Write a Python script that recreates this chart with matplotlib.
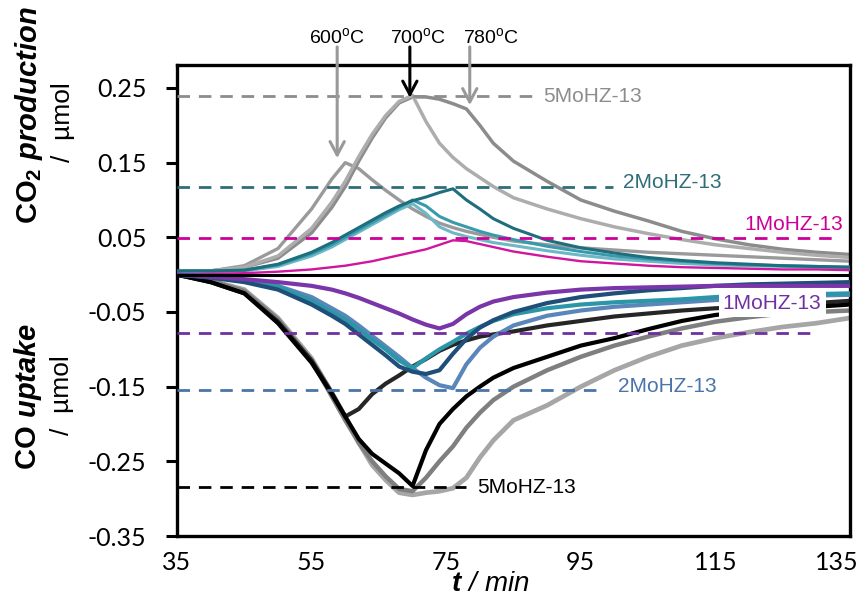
import matplotlib
matplotlib.use("Agg")
import matplotlib.pyplot as plt
from matplotlib.transforms import ScaledTranslation

plt.rcParams['mathtext.fontset'] = 'custom'
plt.rcParams['mathtext.rm'] = 'Liberation Sans'
plt.rcParams['mathtext.it'] = 'Liberation Sans:italic:bold'
plt.rcParams['mathtext.bf'] = 'Liberation Sans:bold'
plt.rcParams['mathtext.sf'] = 'Liberation Sans:italic'

# ---------------- data ----------------
T = [35, 40, 45, 50, 55, 58, 60, 62, 64, 66, 68, 70, 72, 74, 76, 78, 80, 82, 85,
     90, 95, 100, 105, 110, 115, 120, 125, 130, 135]

# CO2 production (positive)
co2_5mo_600 = [0.005, 0.005, 0.012, 0.035, 0.088, 0.128, 0.150, 0.142, 0.127, 0.113, 0.100, 0.088, 0.078, 0.069, 0.063,
               0.058, 0.054, 0.050, 0.045, 0.040, 0.036, 0.033, 0.030, 0.028, 0.026, 0.024, 0.022, 0.020, 0.018]
co2_5mo_700 = [0.003, 0.005, 0.010, 0.025, 0.062, 0.097, 0.125, 0.158, 0.188, 0.213, 0.232, 0.240, 0.205, 0.176, 0.157,
               0.142, 0.130, 0.118, 0.103, 0.088, 0.075, 0.064, 0.055, 0.047, 0.040, 0.035, 0.030, 0.026, 0.023]
co2_5mo_780 = [0.003, 0.005, 0.010, 0.022, 0.056, 0.090, 0.118, 0.152, 0.183, 0.210, 0.230, 0.238, 0.238, 0.235, 0.229,
               0.222, 0.200, 0.176, 0.152, 0.125, 0.100, 0.085, 0.072, 0.058, 0.048, 0.040, 0.034, 0.030, 0.027]
co2_2mo_a = [0.005, 0.005, 0.006, 0.014, 0.030, 0.043, 0.053, 0.063, 0.073, 0.083, 0.092, 0.099, 0.104, 0.110, 0.115,
             0.100, 0.088, 0.075, 0.062, 0.046, 0.036, 0.029, 0.023, 0.019, 0.016, 0.014, 0.012, 0.011, 0.010]
co2_2mo_b = [0.005, 0.005, 0.006, 0.013, 0.028, 0.040, 0.050, 0.060, 0.070, 0.080, 0.090, 0.100, 0.092, 0.078, 0.070,
             0.064, 0.058, 0.053, 0.047, 0.038, 0.031, 0.025, 0.021, 0.018, 0.015, 0.013, 0.012, 0.011, 0.010]
co2_2mo_c = [0.004, 0.004, 0.005, 0.011, 0.025, 0.037, 0.047, 0.057, 0.067, 0.077, 0.087, 0.095, 0.082, 0.064, 0.056,
             0.051, 0.047, 0.043, 0.039, 0.032, 0.026, 0.021, 0.018, 0.015, 0.013, 0.012, 0.011, 0.010, 0.009]
co2_1mo = [0.000, 0.001, 0.002, 0.004, 0.007, 0.010, 0.012, 0.015, 0.018, 0.022, 0.026, 0.030, 0.034, 0.040, 0.046,
           0.045, 0.041, 0.037, 0.031, 0.024, 0.018, 0.015, 0.012, 0.010, 0.009, 0.008, 0.007, 0.007, 0.006]

# CO uptake (negative)
co_1mo = [0.000, -0.003, -0.006, -0.010, -0.015, -0.020, -0.025, -0.031, -0.038, -0.045, -0.052, -0.060, -0.067, -0.072,
          -0.066, -0.053, -0.043, -0.036, -0.030, -0.024, -0.020, -0.018, -0.017, -0.016, -0.015, -0.015, -0.015, -0.015, -0.015]
co_2mo_a = [0.000, -0.003, -0.008, -0.016, -0.035, -0.050, -0.060, -0.073, -0.087, -0.100, -0.115, -0.125, -0.112, -0.100,
            -0.090, -0.079, -0.070, -0.062, -0.053, -0.045, -0.040, -0.037, -0.035, -0.033, -0.030, -0.028, -0.027, -0.026, -0.025]
co_2mo_b = [0.000, -0.004, -0.010, -0.020, -0.040, -0.055, -0.066, -0.080, -0.094, -0.108, -0.123, -0.130, -0.133, -0.128,
            -0.106, -0.086, -0.071, -0.061, -0.050, -0.038, -0.030, -0.025, -0.021, -0.018, -0.015, -0.013, -0.012, -0.011, -0.010]
co_2mo_c = [0.000, -0.003, -0.008, -0.015, -0.030, -0.045, -0.055, -0.068, -0.082, -0.096, -0.110, -0.125, -0.138, -0.148,
            -0.152, -0.120, -0.098, -0.083, -0.068, -0.055, -0.048, -0.043, -0.040, -0.037, -0.034, -0.032, -0.030, -0.028, -0.027]
co_5mo_700 = [0.000, -0.010, -0.025, -0.065, -0.118, -0.160, -0.190, -0.220, -0.240, -0.253, -0.266, -0.283, -0.235, -0.200,
              -0.180, -0.163, -0.150, -0.138, -0.125, -0.110, -0.095, -0.085, -0.073, -0.062, -0.054, -0.049, -0.046, -0.043, -0.040]
co_5mo_600 = [0.000, -0.010, -0.025, -0.063, -0.115, -0.158, -0.190, -0.180, -0.160, -0.146, -0.135, -0.123, -0.113, -0.102,
              -0.094, -0.088, -0.083, -0.080, -0.076, -0.068, -0.062, -0.056, -0.052, -0.048, -0.045, -0.043, -0.040, -0.038, -0.035]
co_5mo_700b = [0.000, -0.008, -0.022, -0.060, -0.115, -0.163, -0.195, -0.225, -0.250, -0.270, -0.287, -0.290, -0.272, -0.250,
               -0.230, -0.205, -0.185, -0.168, -0.150, -0.128, -0.110, -0.095, -0.083, -0.072, -0.063, -0.057, -0.052, -0.050, -0.048]
co_5mo_780 = [0.000, -0.008, -0.020, -0.058, -0.112, -0.158, -0.190, -0.225, -0.255, -0.275, -0.292, -0.295, -0.292, -0.290,
              -0.286, -0.272, -0.245, -0.222, -0.195, -0.175, -0.150, -0.128, -0.110, -0.095, -0.085, -0.077, -0.070, -0.065, -0.058]

# reference dashed levels and their labels
ref_labels = ["5MoHZ-13", "2MoHZ-13", "1MoHZ-13", "1MoHZ-13", "2MoHZ-13", "5MoHZ-13"]
ref_levels = [0.239, 0.118, 0.049, -0.0775, -0.154, -0.284]
ref_ends = [88.2, 99.8, 133.2, 130.0, 97.9, 78.0]
ref_label_x = [89.4, 101.3, 134.0, 116.1, 100.5, 79.6]
ref_label_y = [0.238, 0.123, 0.067, -0.039, -0.150, -0.285]
ref_colors = ["#8c8c8c", "#2e6e7a", "#cc0099", "#7030a0", "#4a74aa", "#000000"]

# temperature markers
temp_labels = ["600$^{\\mathrm{o}}$C", "700$^{\\mathrm{o}}$C", "780$^{\\mathrm{o}}$C"]
temp_t = [58.8, 69.6, 78.5]
temp_label_t = [58.8, 70.8, 81.7]
temp_tip = [0.156, 0.237, 0.227]
temp_colors = ["#999999", "#000000", "#999999"]

x_ticks = [35, 55, 75, 95, 115, 135]
y_ticks = [-0.35, -0.25, -0.15, -0.05, 0.05, 0.15, 0.25]
y_tick_labels = ["-0.35", "-0.25", "-0.15", "-0.05", "0.05", "0.15", "0.25"]

# ---------------- figure ----------------
W, H = 863, 606
fig = plt.figure(figsize=(W / 100, H / 100), dpi=100)
ax = fig.add_axes([177 / W, 1 - 536 / H, (850 - 177) / W, (536 - 65) / H])
ax.set_xlim(35, 135)
ax.set_ylim(-0.35, 0.2808)

# CO2 curves
ax.plot(T, co2_5mo_600, color="#9a9a9a", lw=2.4, zorder=2)
ax.plot(T, co2_5mo_780, color="#8c8c8c", lw=2.5, zorder=2)
ax.plot(T, co2_5mo_700, color="#adadad", lw=2.5, zorder=2)
ax.plot(T, co2_2mo_c, color="#6cb8c6", lw=2.2, zorder=3)
ax.plot(T, co2_2mo_b, color="#3a9aad", lw=2.2, zorder=3)
ax.plot(T, co2_2mo_a, color="#1f6e7e", lw=2.2, zorder=3)
ax.plot(T, co2_1mo, color="#d0169e", lw=1.7, zorder=4)

# CO uptake curves
ax.plot(T, co_5mo_780, color="#a6a6a6", lw=3.4, zorder=2)
ax.plot(T, co_5mo_700b, color="#7f7f7f", lw=3.2, zorder=2)
ax.plot(T, co_5mo_600, color="#262626", lw=3.0, zorder=2)
ax.plot(T, co_5mo_700, color="#000000", lw=3.0, zorder=2)
ax.plot(T, co_2mo_c, color="#5a86ba", lw=3.0, zorder=3)
ax.plot(T, co_2mo_a, color="#2b96a8", lw=3.0, zorder=3)
ax.plot(T, co_2mo_b, color="#1f4e79", lw=3.0, zorder=3)
ax.plot(T, co_1mo, color="#7a35a8", lw=3.0, zorder=4)

# zero line
ax.axhline(0, color="black", lw=2.2, zorder=6)

# reference dashed lines + labels
for lab, lev, end, lx, ly, c in zip(ref_labels, ref_levels, ref_ends, ref_label_x, ref_label_y, ref_colors):
    ax.plot([35, end], [lev, lev], color=c, lw=2.0, ls=(0, (4.5, 3.2)), zorder=5)
    ha = "right" if lab == "1MoHZ-13" and lev > 0 else "left"
    kw = {}
    if lab == "1MoHZ-13" and lev < 0:
        kw["bbox"] = dict(facecolor="white", edgecolor="none", pad=3)
    ax.text(lx, ly, lab, color=c, fontsize=15, family="Liberation Sans",
            ha=ha, va="center", zorder=7, **kw)

# temperature arrows
for lab, t, lt, tip, c in zip(temp_labels, temp_t, temp_label_t, temp_tip, temp_colors):
    ax.annotate("", xy=(t, tip), xytext=(t, 0.305), annotation_clip=False,
                arrowprops=dict(arrowstyle="->,head_length=0.6,head_width=0.32",
                                color=c, lw=2.2, mutation_scale=16,
                                shrinkA=0, shrinkB=0), zorder=8)
    ax.text(lt, 0.318, lab, color="black", fontsize=14, family="Liberation Sans",
            ha="center", va="center", clip_on=False)

# axes styling
for sp in ax.spines.values():
    sp.set_linewidth(2.4)
    sp.set_color("black")
ax.set_xticks(x_ticks)
ax.set_xticklabels([str(v) for v in x_ticks])
ax.set_yticks(y_ticks)
ax.set_yticklabels(y_tick_labels)
ax.tick_params(axis="x", length=0, pad=11, labelsize=18)
ax.tick_params(axis="y", direction="out", length=8, width=2.2, pad=14, labelsize=18)
for lab in ax.get_xticklabels() + ax.get_yticklabels():
    lab.set_family("Lato")
last = ax.get_xticklabels()[-1]
last.set_transform(last.get_transform() + ScaledTranslation(-0.13, 0, fig.dpi_scale_trans))

# axis titles
def fx(px):
    return px / W

def fy(py):
    return 1 - py / H

fig.text(fx(29), fy(115), r"$\mathbf{CO_2}\ \mathit{production}$", rotation=90,
         fontsize=21, ha="center", va="center")
fig.text(fx(63), fy(122), "/  µmol", rotation=90, fontsize=19, family="Liberation Sans",
         ha="center", va="center")
fig.text(fx(28), fy(396), r"$\mathbf{CO}\ \mathit{uptake}$", rotation=90,
         fontsize=21, ha="center", va="center")
fig.text(fx(62), fy(395), "/  µmol", rotation=90, fontsize=19, family="Liberation Sans",
         ha="center", va="center")
fig.text(fx(490), fy(583), r"$\mathit{t}\mathsf{\ /\ min}$", fontsize=20,
         ha="center", va="center")

fig.savefig("out.png", dpi=100)
